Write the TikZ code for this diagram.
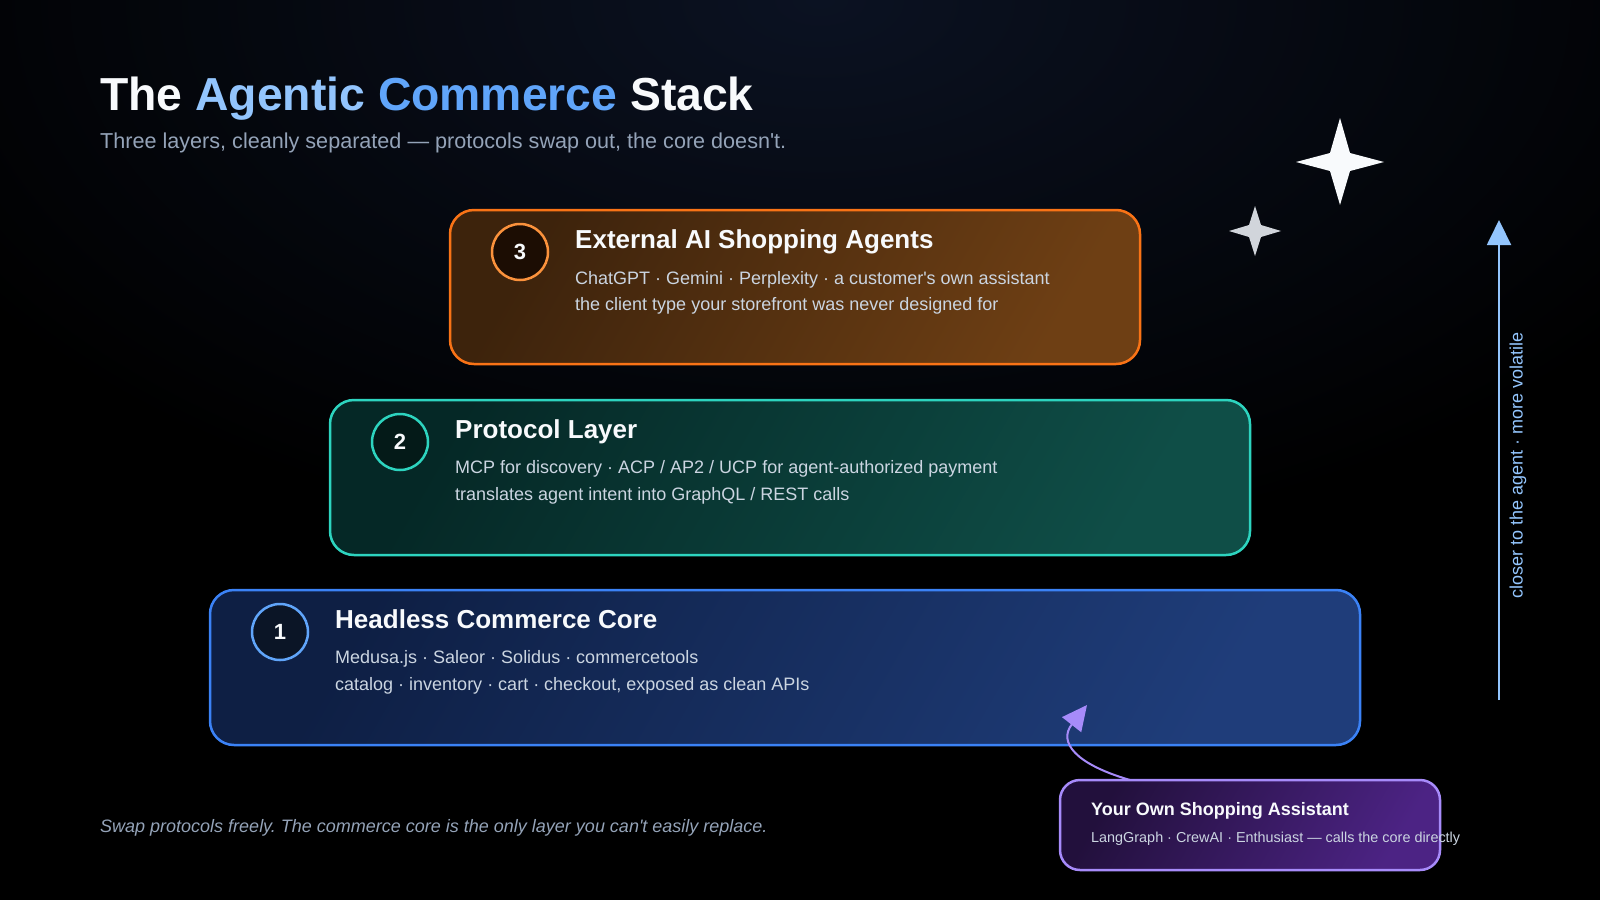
\documentclass[tikz,border=0pt]{standalone}
\usepackage{fontspec}
\setmainfont{Liberation Sans}[Ligatures=TeXOff]
\frenchspacing
\usetikzlibrary{arrows.meta,shadings}
\definecolor{bgtop}{HTML}{0B1222}
\definecolor{titlewhite}{HTML}{F8FAFC}
\definecolor{agA}{HTML}{93C5FD}
\definecolor{agB}{HTML}{60A5FA}
\definecolor{subgray}{HTML}{94A3B8}
\definecolor{bodygray}{HTML}{CBD5E1}
\definecolor{orangeB}{HTML}{F97316}
\definecolor{orangeC}{HTML}{FB923C}
\definecolor{orangeF1}{HTML}{3D230C}
\definecolor{orangeF2}{HTML}{6E3F14}
\definecolor{orangeDot}{HTML}{1C0D03}
\definecolor{tealB}{HTML}{2DD4BF}
\definecolor{tealF1}{HTML}{052826}
\definecolor{tealF2}{HTML}{0F4E47}
\definecolor{tealDot}{HTML}{041A18}
\definecolor{blueB}{HTML}{3B82F6}
\definecolor{blueC}{HTML}{60A5FA}
\definecolor{blueF1}{HTML}{0E1F44}
\definecolor{blueF2}{HTML}{1F3D7A}
\definecolor{blueDot}{HTML}{0B1526}
\definecolor{purpB}{HTML}{A78BFA}
\definecolor{purpF1}{HTML}{22103C}
\definecolor{purpF2}{HTML}{4C2384}
\definecolor{arrowblue}{HTML}{93C5FD}
\definecolor{starwhite}{HTML}{F8FAFC}
\definecolor{stargray}{HTML}{D1D5DB}
\tikzset{
  layerbox/.style={draw=#1, line width=2.5pt, rounded corners=24pt, inner sep=0pt, shading angle=60},
  numdot/.style={circle, line width=2.5pt, minimum size=56pt, inner sep=0pt, text=titlewhite, font=\bfseries\fontsize{22}{24}\selectfont},
  layertitle/.style={anchor=base west, inner sep=0pt, text=titlewhite, font=\bfseries\fontsize{26}{30}\selectfont},
  layerbody/.style={anchor=base west, inner sep=0pt, text=bodygray, font=\fontsize{18}{22}\selectfont},
}
\begin{document}
\begin{tikzpicture}[x=1pt,y=-1pt]
\useasboundingbox (0,0) rectangle (1600,900);
\fill[black] (0,0) rectangle (1600,900);
\begin{scope}
\clip (0,0) rectangle (1600,900);
\shade[inner color=bgtop, outer color=black] (820,0) ellipse (1000 and 560);
\end{scope}

% title
\node[anchor=base west, inner sep=0pt, text=titlewhite, font=\bfseries\fontsize{46.3}{52}\selectfont] (title) at (100,110)
  {The \textcolor{agA}{Agentic} \textcolor{agB}{Commerce} Stack};
\node[anchor=base west, inner sep=0pt, text=subgray, font=\fontsize{21.6}{25}\selectfont] (subtitle) at (100,148)
  {Three layers, cleanly separated — protocols swap out, the core doesn't.};

% stars
\fill[starwhite] (1340,118) -- (1350,153) -- (1384,162) -- (1350,171) -- (1340,205) -- (1330,171) -- (1296,162) -- (1330,153) -- cycle;
\fill[stargray] (1255,206) -- (1261,225) -- (1281,231) -- (1261,237) -- (1255,256) -- (1249,237) -- (1229,231) -- (1249,225) -- cycle;

% layer 3
\node[layerbox=orangeB, left color=orangeF1, right color=orangeF2, shading angle=60, minimum width=690pt, minimum height=154pt] (l3) at (795,287) {};
\node[numdot, draw=orangeC, fill=orangeDot] (n3) at (520,252) {3};
\node[layertitle] (t3) at (575,248) {External AI Shopping Agents};
\node[layerbody] (b3a) at (575,284) {ChatGPT · Gemini · Perplexity · a customer's own assistant};
\node[layerbody] (b3b) at (575,310) {the client type your storefront was never designed for};

% layer 2
\node[layerbox=tealB, left color=tealF1, right color=tealF2, shading angle=60, minimum width=920pt, minimum height=155pt] (l2) at (790,477.5) {};
\node[numdot, draw=tealB, fill=tealDot] (n2) at (400,442) {2};
\node[layertitle] (t2) at (455,438) {Protocol Layer};
\node[layerbody] (b2a) at (455,473) {MCP for discovery · ACP / AP2 / UCP for agent-authorized payment};
\node[layerbody] (b2b) at (455,500) {translates agent intent into GraphQL / REST calls};

% layer 1
\node[layerbox=blueB, left color=blueF1, right color=blueF2, shading angle=60, minimum width=1150pt, minimum height=155pt] (l1) at (785,667.5) {};
\node[numdot, draw=blueC, fill=blueDot] (n1) at (280,632) {1};
\node[layertitle] (t1) at (335,628) {Headless Commerce Core};
\node[layerbody] (b1a) at (335,663) {Medusa.js · Saleor · Solidus · commercetools};
\node[layerbody] (b1b) at (335,690) {catalog · inventory · cart · checkout, exposed as clean APIs};

% own assistant
\node[draw=purpB, line width=2.5pt, rounded corners=20pt, inner sep=0pt, left color=purpF1, right color=purpF2, shading angle=60, minimum width=380pt, minimum height=90pt] (own) at (1250,825) {};
\node[anchor=base west, inner sep=0pt, text=titlewhite, font=\bfseries\fontsize{18}{22}\selectfont] (ownt) at (1091,815) {Your Own Shopping Assistant};
\node[anchor=base west, inner sep=0pt, text=bodygray, font=\fontsize{14.4}{17}\selectfont] (owns) at (1091,842) {LangGraph · CrewAI · Enthusiast — calls the core directly};

\coordinate (ownstart) at (1130,780);
\coordinate (coretip) at (1087,705);
\draw[purpB, line width=2pt, -{Triangle[length=25pt,width=24pt]}] (ownstart) .. controls (1075,764) and (1058,742) .. (coretip);

% right arrow
\coordinate (axbot) at (1499,700);
\coordinate (axtop) at (1499,220);
\draw[arrowblue, line width=2pt, -{Triangle[length=25pt,width=24pt]}] (axbot) -- (axtop);
\node[rotate=90, inner sep=0pt, text=arrowblue, font=\fontsize{18}{22}\selectfont] (axlabel) at (1518,465) {closer to the agent · more volatile};

% footer
\node[anchor=base west, inner sep=0pt, text=subgray, font=\itshape\fontsize{18}{22}\selectfont] (footer) at (100,832)
  {Swap protocols freely. The commerce core is the only layer you can't easily replace.};
\end{tikzpicture}
\end{document}
